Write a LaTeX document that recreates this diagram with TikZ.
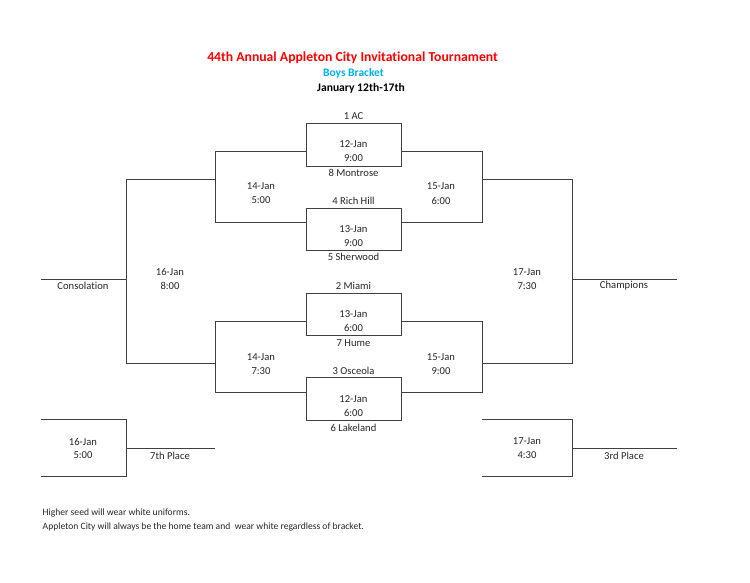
\documentclass[tikz,border=0pt]{standalone}
\usepackage{fontspec}
\setmainfont{Carlito}[Ligatures=NoCommon]
\definecolor{titlered}{HTML}{FF0000}
\definecolor{boysblue}{HTML}{00B0F0}
\definecolor{linegray}{HTML}{404040}
\definecolor{textgray}{HTML}{262626}
\begin{document}
\begin{tikzpicture}[x=1pt,y=-1pt,
  gamebox/.style={draw=linegray,line width=0.9pt,minimum width=95pt,inner sep=0pt},
  wire/.style={draw=linegray,line width=0.9pt},
  lbl/.style={font=\fontsize{10.6}{12}\selectfont,inner sep=0pt,text=textgray},
  note/.style={font=\fontsize{9.6}{11}\selectfont,inner sep=0pt,anchor=west,text=textgray}]
\useasboundingbox (0,0) rectangle (750,583);
% titles
\node[font=\bfseries\fontsize{13.7}{16}\selectfont,text=titlered,inner sep=0pt] (title) at (352.5,57.5) {44th Annual Appleton City Invitational Tournament};
\node[font=\bfseries\fontsize{11.5}{13}\selectfont,text=boysblue,inner sep=0pt] (sub) at (353.5,73) {Boys Bracket};
\node[font=\bfseries\fontsize{11.6}{13}\selectfont,inner sep=0pt] (dates) at (361,88.5) {January 12th-17th};
% first-round boxes
\node[gamebox,minimum height=43pt] (g1) at (353.5,144.5) {};
\node[gamebox,minimum height=42pt] (g2) at (353.5,229) {};
\node[gamebox,minimum height=42pt] (g3) at (353.5,314) {};
\node[gamebox,minimum height=42.5pt] (g4) at (353.5,398.75) {};
% bracket coordinates
\coordinate (ul1) at (215,151); \coordinate (ul2) at (215,222);
\coordinate (ur1) at (482,151); \coordinate (ur2) at (482,222);
\coordinate (ll1) at (215,321); \coordinate (ll2) at (215,392);
\coordinate (lr1) at (482,321); \coordinate (lr2) at (482,392);
\coordinate (ulm) at (215,179.5); \coordinate (llm) at (215,363);
\coordinate (urm) at (482,179.5); \coordinate (lrm) at (482,363);
\coordinate (sl1) at (126,179.5); \coordinate (sl2) at (126,363);
\coordinate (sr1) at (572,179.5); \coordinate (sr2) at (572,363);
\coordinate (slm) at (126,279); \coordinate (srm) at (572,279);
\coordinate (cons) at (41,279); \coordinate (champ) at (677,279);
% quarterfinal brackets
\draw[wire] (g1.west |- ul1) -- (ul1) -- (ul2) -- (g2.west |- ul2);
\draw[wire] (g1.east |- ur1) -- (ur1) -- (ur2) -- (g2.east |- ur2);
\draw[wire] (g3.west |- ll1) -- (ll1) -- (ll2) -- (g4.west |- ll2);
\draw[wire] (g3.east |- lr1) -- (lr1) -- (lr2) -- (g4.east |- lr2);
% semifinal/final brackets
\draw[wire] (ulm) -- (sl1) -- (sl2) -- (llm);
\draw[wire] (urm) -- (sr1) -- (sr2) -- (lrm);
\draw[wire] (slm) -- (cons);
\draw[wire] (srm) -- (champ);
% placement brackets
\coordinate (a1) at (41,419.5); \coordinate (a2) at (126,419.5);
\coordinate (a3) at (126,476); \coordinate (a4) at (41,476);
\coordinate (am) at (126,448); \coordinate (ae) at (215,448);
\coordinate (b1) at (482,419.5); \coordinate (b2) at (572,419.5);
\coordinate (b3) at (572,476); \coordinate (b4) at (482,476);
\coordinate (bm) at (572,448); \coordinate (be) at (677,448);
\draw[wire] (a1) -- (a2) -- (a3) -- (a4);
\draw[wire] (am) -- (ae);
\draw[wire] (b1) -- (b2) -- (b3) -- (b4);
\draw[wire] (bm) -- (be);
% labels: first round
\node[lbl] (t1) at (353.5,116.5) {1 AC};
\node[lbl] (d1) at (353.5,144.5) {12-Jan};
\node[lbl] (h1) at (353.5,158.5) {9:00};
\node[lbl] (t8) at (353.5,172.5) {8 Montrose};
\node[lbl] (t4) at (353.5,200.5) {4 Rich Hill};
\node[lbl] (d2) at (353.5,229) {13-Jan};
\node[lbl] (h2) at (353.5,243) {9:00};
\node[lbl] (t5) at (353.5,257) {5 Sherwood};
\node[lbl] (t2) at (353.5,286) {2 Miami};
\node[lbl] (d3) at (353.5,314) {13-Jan};
\node[lbl] (h3) at (353.5,328) {6:00};
\node[lbl] (t7) at (353.5,343) {7 Hume};
\node[lbl] (t3) at (353.5,371) {3 Osceola};
\node[lbl] (d4) at (353.5,399) {12-Jan};
\node[lbl] (h4) at (353.5,413) {6:00};
\node[lbl] (t6) at (353.5,428) {6 Lakeland};
% labels: second round
\node[lbl] (d5) at (261,186.5) {14-Jan};
\node[lbl] (h5) at (261,200.5) {5:00};
\node[lbl] (d6) at (441,186.5) {15-Jan};
\node[lbl] (h6) at (441,200.5) {6:00};
\node[lbl] (d7) at (261,357) {14-Jan};
\node[lbl] (h7) at (261,371) {7:30};
\node[lbl] (d8) at (441,357) {15-Jan};
\node[lbl] (h8) at (441,371) {9:00};
% labels: finals
\node[lbl] (d9) at (170,272) {16-Jan};
\node[lbl] (h9) at (170,286) {8:00};
\node[lbl] (consl) at (83,286) {Consolation};
\node[lbl] (d10) at (527,272) {17-Jan};
\node[lbl] (h10) at (527,286) {7:30};
\node[lbl] (champl) at (624,286) {Champions};
\node[lbl] (d11) at (83,441.5) {16-Jan};
\node[lbl] (h11) at (83,455.5) {5:00};
\node[lbl] (sev) at (170,455.5) {7th Place};
\node[lbl] (d12) at (527,441.5) {17-Jan};
\node[lbl] (h12) at (527,455.5) {4:30};
\node[lbl] (thr) at (624,455.5) {3rd Place};
% notes
\node[note] (n1) at (42.5,512.5) {Higher seed will wear white uniforms.};
\node[note] (n2) at (42.5,526.5) {Appleton City will always be the home team and\ \ wear white regardless of bracket.};
\end{tikzpicture}
\end{document}
